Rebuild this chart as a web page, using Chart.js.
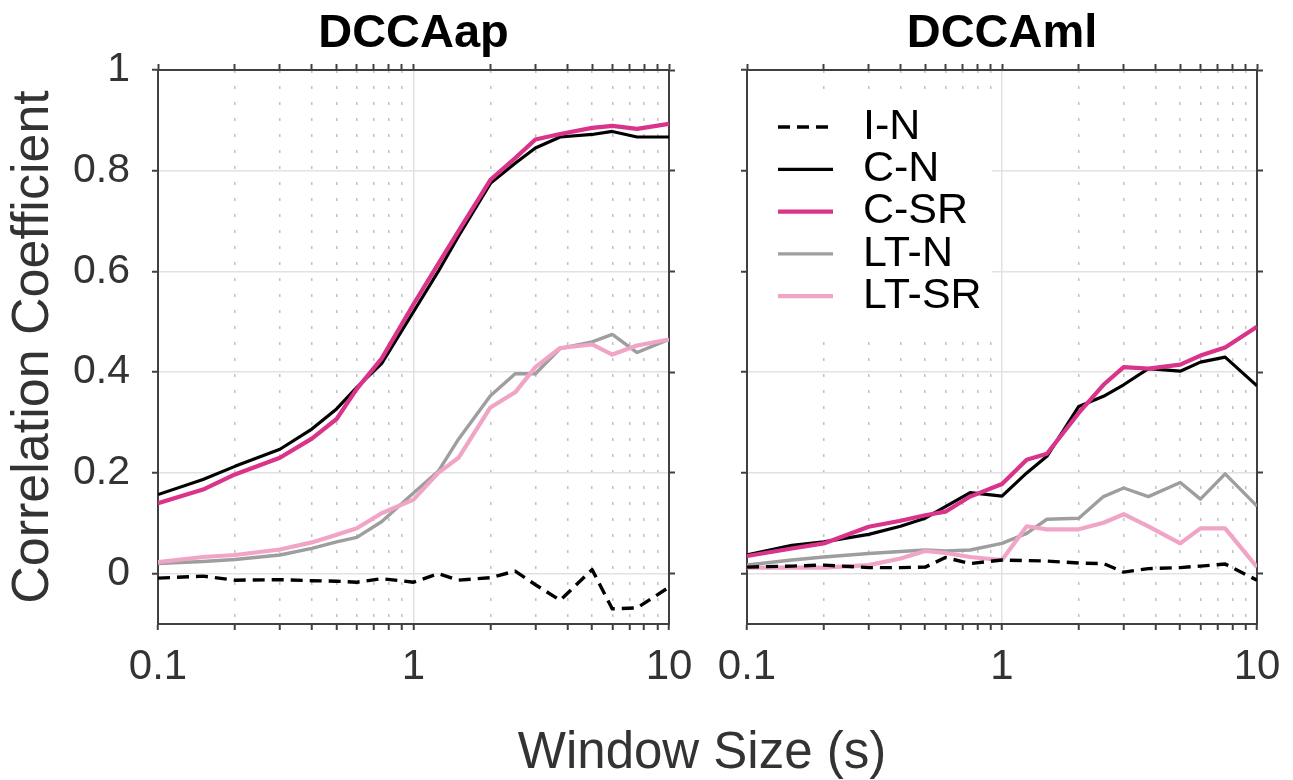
<!DOCTYPE html>
<html>
<head>
<meta charset="utf-8">
<script src="https://cdn.jsdelivr.net/npm/chart.js@4.4.1/dist/chart.umd.min.js"></script>
<style>
  html, body { margin: 0; padding: 0; background: #fff; width: 1293px; height: 780px; overflow: hidden; }
  #left { position: absolute; left: 0; top: 0; }
  #right { position: absolute; left: 700px; top: 0; }
  #xlabel { position: absolute; left: 402px; top: 726px; width: 600px; text-align: center;
            font: 51px/50px 'Liberation Sans', Arial, sans-serif; color: #333; }
</style>
</head>
<body>
<canvas id="left" width="705" height="700"></canvas>
<canvas id="right" width="593" height="700"></canvas>
<div id="xlabel">Window Size (s)</div>
<script>
// window sizes (s), shared by every series
const windowSizes = [0.1, 0.15, 0.2, 0.3, 0.4, 0.5, 0.6, 0.75, 1, 1.25, 1.5, 2, 2.5, 3, 3.75, 5, 6, 7.5, 10];

// DCCAap panel
const apIN   = [-0.009, -0.005, -0.013, -0.012, -0.014, -0.015, -0.017, -0.010, -0.017, 0.000, -0.013, -0.008, 0.005, -0.022, -0.053, 0.008, -0.070, -0.068, -0.027];
const apCN   = [0.157, 0.187, 0.213, 0.247, 0.287, 0.327, 0.370, 0.417, 0.520, 0.600, 0.670, 0.775, 0.815, 0.845, 0.867, 0.872, 0.878, 0.867, 0.867];
const apCSR  = [0.140, 0.167, 0.197, 0.230, 0.268, 0.307, 0.367, 0.427, 0.535, 0.615, 0.680, 0.782, 0.825, 0.862, 0.873, 0.885, 0.889, 0.883, 0.893];
const apLTN  = [0.020, 0.024, 0.028, 0.037, 0.050, 0.063, 0.072, 0.103, 0.160, 0.203, 0.267, 0.353, 0.397, 0.397, 0.447, 0.460, 0.475, 0.439, 0.465];
const apLTSR = [0.023, 0.033, 0.037, 0.048, 0.062, 0.077, 0.090, 0.120, 0.147, 0.200, 0.230, 0.330, 0.360, 0.410, 0.448, 0.455, 0.435, 0.453, 0.465];

// DCCAml panel
const mlIN   = [0.013, 0.015, 0.017, 0.012, 0.012, 0.013, 0.032, 0.020, 0.027, 0.026, 0.025, 0.021, 0.020, 0.003, 0.010, 0.012, 0.015, 0.019, -0.013];
const mlCN   = [0.037, 0.056, 0.063, 0.078, 0.094, 0.110, 0.133, 0.161, 0.154, 0.200, 0.233, 0.332, 0.352, 0.375, 0.407, 0.402, 0.420, 0.430, 0.373];
const mlCSR  = [0.035, 0.050, 0.060, 0.093, 0.105, 0.116, 0.123, 0.153, 0.178, 0.226, 0.238, 0.319, 0.375, 0.410, 0.407, 0.415, 0.433, 0.449, 0.490];
const mlLTN  = [0.017, 0.027, 0.033, 0.040, 0.044, 0.047, 0.045, 0.047, 0.060, 0.080, 0.108, 0.110, 0.153, 0.170, 0.153, 0.181, 0.148, 0.198, 0.134];
const mlLTSR = [0.012, 0.012, 0.012, 0.017, 0.030, 0.045, 0.041, 0.033, 0.027, 0.094, 0.088, 0.088, 0.101, 0.118, 0.094, 0.060, 0.090, 0.090, 0.013];

const seriesNames = ['I-N', 'C-N', 'C-SR', 'LT-N', 'LT-SR'];

// axis ticks
const xTicks = [0.1, 0.2, 0.3, 0.4, 0.5, 0.6, 0.7, 0.8, 0.9, 1, 2, 3, 4, 5, 6, 7, 8, 9, 10];
const xMajorTicks = [0.1, 1, 10];
const xTickLabels = ['0.1', '1', '10'];
const yTicks = [0, 0.2, 0.4, 0.6, 0.8, 1];
const yTickLabels = ['0', '0.2', '0.4', '0.6', '0.8', '1'];

const FONT = "'Liberation Sans', Arial, sans-serif";
const AXIS = '#404040';
const NONE = 'rgba(0,0,0,0)';
Chart.defaults.font.family = FONT;

// line styles per series, same order as seriesNames
const styles = [
  { borderColor: '#000000', borderWidth: 3.4, borderDash: [12, 7], order: 0 },
  { borderColor: '#000000', borderWidth: 3.2, order: 2 },
  { borderColor: '#d9338a', borderWidth: 4.2, order: 1 },
  { borderColor: '#9e9e9e', borderWidth: 3.4, order: 4 },
  { borderColor: '#f1a5c6', borderWidth: 4.2, order: 3 }
];

function makeDatasets(series) {
  return series.map((vals, i) => Object.assign({
    label: seriesNames[i],
    data: windowSizes.map((x, j) => ({ x: x, y: vals[j] })),
    fill: false,
    tension: 0,
    pointRadius: 0,
    borderJoinStyle: 'round'
  }, styles[i]));
}

// legend drawn inside the plot, on a white box
const insideLegend = {
  id: 'insideLegend',
  afterDatasetsDraw(chart) {
    const { ctx, chartArea: a } = chart;
    ctx.save();
    ctx.fillStyle = '#fff';
    ctx.fillRect(a.left + 1, a.top + 30, 244, 230);
    ctx.font = '43px ' + FONT;
    ctx.textBaseline = 'middle';
    chart.data.datasets.forEach((ds, i) => {
      const y = a.top + 57 + i * 42.3;
      ctx.beginPath();
      ctx.strokeStyle = ds.borderColor;
      ctx.lineWidth = ds.borderWidth;
      ctx.setLineDash(ds.borderDash || []);
      ctx.moveTo(a.left + 31, y);
      ctx.lineTo(a.left + 86, y);
      ctx.stroke();
      ctx.fillStyle = '#000';
      ctx.fillText(ds.label, a.left + 116, y);
    });
    ctx.restore();
  }
};

function makePanel(id, title, series, leftW, rightW, showY, withLegend) {
  const setXTicks = s => { s.ticks = xTicks.map(v => ({ value: v, major: xMajorTicks.includes(v) })); };
  const setYTicks = s => { s.ticks = yTicks.map(v => ({ value: v })); };
  return new Chart(document.getElementById(id), {
    type: 'line',
    data: { datasets: makeDatasets(series) },
    plugins: withLegend ? [insideLegend] : [],
    options: {
      responsive: false,
      animation: false,
      layout: { padding: 0 },
      plugins: {
        legend: { display: false },
        tooltip: { enabled: false },
        title: {
          display: true, text: title, fullSize: false, color: '#000',
          font: { size: 47, weight: 'bold' }, padding: { top: 6, bottom: 0 }
        }
      },
      scales: {
        x: {
          type: 'logarithmic', position: 'bottom', min: 0.1, max: 10,
          afterBuildTicks: setXTicks,
          afterFit: s => { s.height = 76; },
          ticks: {
            autoSkip: false, maxRotation: 0, minRotation: 0, padding: 12, color: '#333',
            font: { size: 42 },
            callback: v => { const i = xMajorTicks.indexOf(v); return i >= 0 ? xTickLabels[i] : ''; }
          },
          grid: {
            color: c => (c.tick.value === 0.1 || c.tick.value === 10) ? NONE : (c.tick.major ? '#e2e2e2' : '#c2c2c2'),
            lineWidth: 1.5, tickLength: 6, tickWidth: 2, tickColor: AXIS
          },
          border: { color: AXIS, width: 2, dash: c => (c.tick && !c.tick.major) ? [3, 13] : [] }
        },
        x2: {
          type: 'logarithmic', position: 'top', min: 0.1, max: 10,
          afterBuildTicks: setXTicks,
          afterFit: s => { s.height = 7.6; },
          ticks: { display: false, autoSkip: false },
          grid: { drawOnChartArea: false, tickLength: 6, tickWidth: 2, tickColor: AXIS },
          border: { color: AXIS, width: 2 }
        },
        y: {
          type: 'linear', position: 'left', min: -0.1, max: 1,
          afterBuildTicks: setYTicks,
          afterFit: s => { s.width = leftW; },
          ticks: {
            display: showY, padding: 22, color: '#333', font: { size: 41 },
            callback: v => { const i = yTicks.indexOf(v); return i >= 0 ? yTickLabels[i] : ''; }
          },
          grid: {
            color: c => c.tick.value === 1 ? NONE : '#e2e2e2',
            lineWidth: 1.5, tickLength: 6, tickWidth: 2, tickColor: AXIS
          },
          border: { color: AXIS, width: 2 },
          title: {
            display: showY, text: 'Correlation Coefficient', color: '#333',
            font: { size: 52 }, padding: { top: 2, bottom: 0 }
          }
        },
        y2: {
          type: 'linear', position: 'right', min: -0.1, max: 1,
          afterBuildTicks: setYTicks,
          afterFit: s => { s.width = rightW; },
          ticks: { display: false },
          grid: { drawOnChartArea: false, tickLength: 6, tickWidth: 2, tickColor: AXIS },
          border: { color: AXIS, width: 2 }
        }
      }
    }
  });
}

makePanel('left', 'DCCAap', [apIN, apCN, apCSR, apLTN, apLTSR], 158, 36, true, false);
makePanel('right', 'DCCAml', [mlIN, mlCN, mlCSR, mlLTN, mlLTSR], 47, 36, false, true);
</script>
</body>
</html>
